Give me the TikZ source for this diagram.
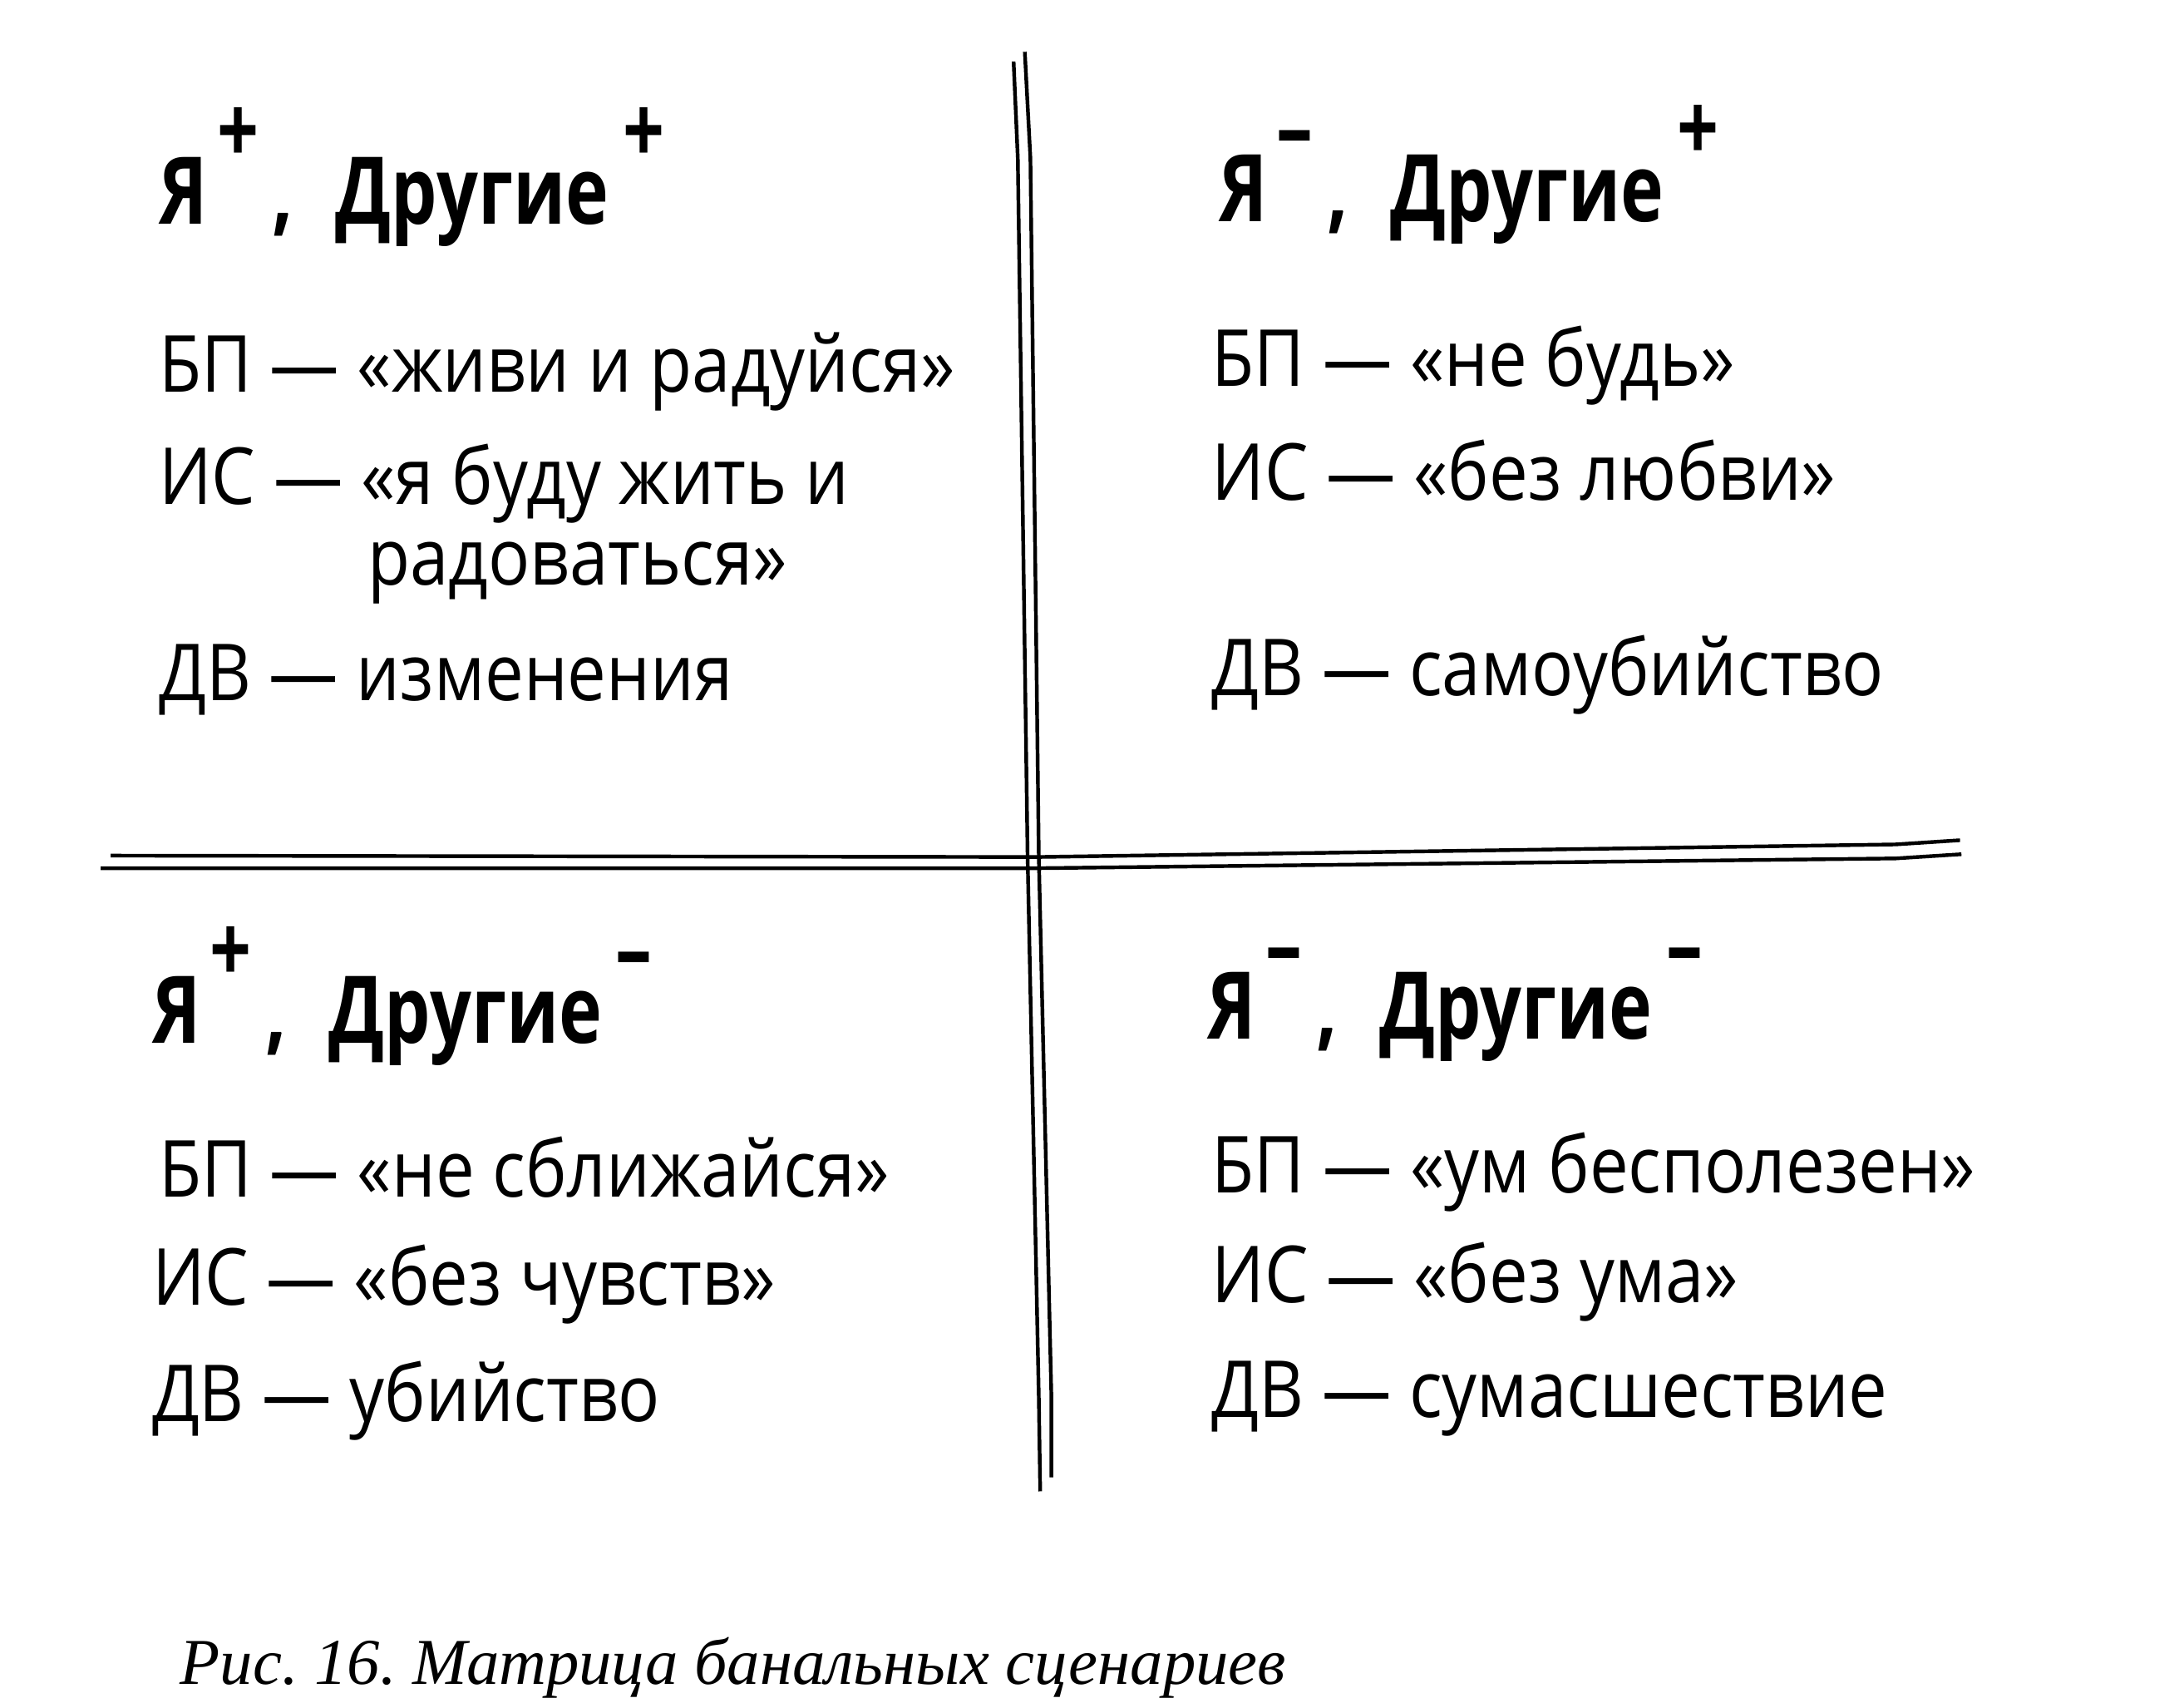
\documentclass[tikz,border=0pt]{standalone}
\usepackage{fontspec}
\setmainfont[FakeStretch=0.88]{Open Sans}
\newfontfamily\headfont[FakeStretch=0.78]{Open Sans}
\newfontfamily\capfont{Liberation Serif}
\tikzset{
  rule/.style={line width=0.75pt},
  head/.style={anchor=base west, inner sep=0pt, font=\headfont\fontsize{19}{23}\selectfont\bfseries},
  entry/.style={anchor=base west, inner sep=0pt, font=\fontsize{16}{19}\selectfont},
}
\newcommand{\upmark}[1]{\raisebox{0.65em}{#1}}
\newcommand{\quadhead}[2]{Я\hspace{0.1em}\upmark{#1}\hspace{0.15em},\hspace{0.45em}Другие\hspace{0.15em}\upmark{#2}}
\begin{document}
\begin{tikzpicture}[x=0.1mm,y=-0.1mm]
\useasboundingbox (0,0) rectangle (1560,1219.7);
% double rules
\draw[rule] (724,44) -- (727,113) -- (734,612) -- (742,998) -- (743,1065);
\draw[rule] (732,37) -- (736,113) -- (742,612) -- (751,998) -- (751,1055);
\draw[rule] (79,611) -- (740,612) -- (1354,603) -- (1400,600);
\draw[rule] (72,620) -- (740,620) -- (1354,613) -- (1401,610);
% top left
\node[head] (ppH) at (113,160) {\quadhead{+}{+}};
\node[entry] (ppB) at (113,280) {БП — «живи и радуйся»};
\node[entry] (ppI) at (113,360) {ИС — «я буду жить и};
\node[entry] (ppI2) at (262,418) {радоваться»};
\node[entry] (ppD) at (113,500) {ДВ — изменения};
% top right
\node[head] (mpH) at (870,158) {\quadhead{–}{+}};
\node[entry] (mpB) at (865,276) {БП — «не будь»};
\node[entry] (mpI) at (865,357) {ИС — «без любви»};
\node[entry] (mpD) at (865,497) {ДВ — самоубийство};
% bottom left
\node[head] (pmH) at (108,745) {\quadhead{+}{–}};
\node[entry] (pmB) at (113,855) {БП — «не сближайся»};
\node[entry] (pmI) at (108,932) {ИС — «без чувств»};
\node[entry] (pmD) at (108,1015) {ДВ — убийство};
% bottom right
\node[head] (mmH) at (862,742) {\quadhead{–}{–}};
\node[entry] (mmB) at (865,852) {БП — «ум бесполезен»};
\node[entry] (mmI) at (865,930) {ИС — «без ума»};
\node[entry] (mmD) at (865,1012) {ДВ — сумасшествие};
% caption
\node[anchor=base west, inner sep=0pt, font=\capfont\itshape\fontsize{13.3}{16}\selectfont\frenchspacing] (cap) at (128,1203) {Рис. 16. Матрица банальных сценариев};
\end{tikzpicture}
\end{document}
